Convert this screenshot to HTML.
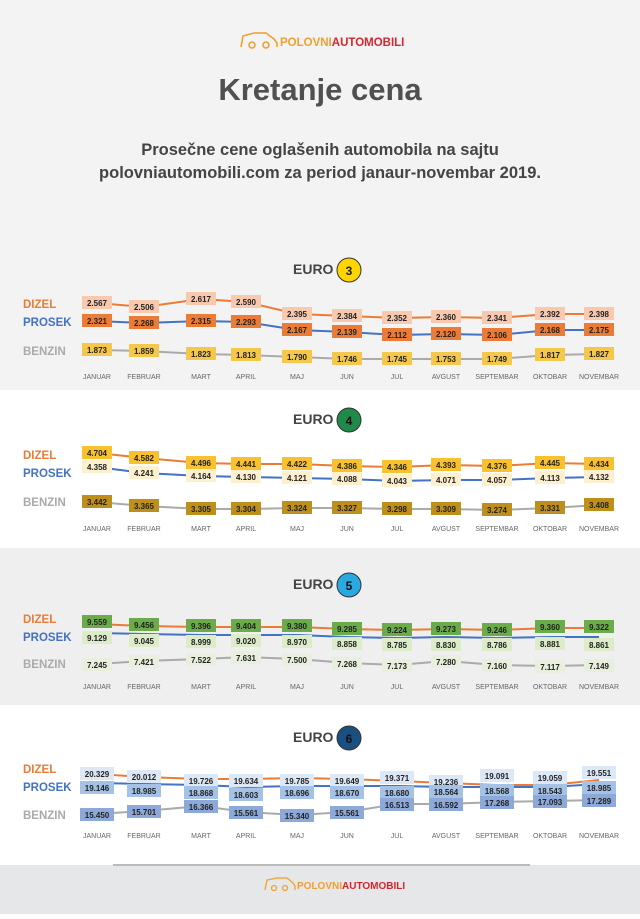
<!DOCTYPE html><html><head><meta charset="utf-8"><style>
body{margin:0;width:640px;height:914px;overflow:hidden;font-family:"Liberation Sans",sans-serif}
svg text{font-family:"Liberation Sans",sans-serif}
.m{font-size:7px;fill:#666;text-anchor:middle}
.v{font-size:8px;font-weight:bold;fill:#222;text-anchor:middle}
.lg{font-size:11.5px;font-weight:bold}
.eu{font-size:14px;font-weight:bold;fill:#444}
</style></head><body>
<svg width="640" height="914" xmlns="http://www.w3.org/2000/svg">
<rect width="640" height="390" fill="#f3f3f3"/>
<rect y="390" width="640" height="158" fill="#fff"/>
<rect y="548" width="640" height="157" fill="#efefef"/>
<rect y="705" width="640" height="160" fill="#fff"/>
<rect y="865" width="640" height="49" fill="#e6e7e8"/>
<line x1="113" y1="865" x2="530" y2="865" stroke="#bbb" stroke-width="2"/>
<!-- header logo -->
<g fill="none" stroke="#f0a030" stroke-width="1.6"><path d="M241 47 L243 36 L254 33 L266 33 L274 39 L277 43 L277 47"/><circle cx="252" cy="45" r="3"/><circle cx="266" cy="45" r="3"/></g>
<text x="280" y="46" font-size="11.5" font-weight="bold" fill="#f0a030">POLOVNI<tspan fill="#d4262e">AUTOMOBILI</tspan></text>
<text x="320" y="100" font-size="31" font-weight="bold" fill="#505050" text-anchor="middle">Kretanje cena</text>
<text x="320" y="155" font-size="16.5" font-weight="bold" fill="#444" text-anchor="middle">Prosečne cene oglašenih automobila na sajtu</text>
<text x="320" y="178" font-size="16.5" font-weight="bold" fill="#444" text-anchor="middle">polovniautomobili.com za period janaur-novembar 2019.</text>
<!-- EURO 3 -->
<text x="293" y="274" class="eu">EURO</text><circle cx="349" cy="270" r="12" fill="#ffd500" stroke="#333" stroke-width="1"/><text x="349" y="275" font-size="12" font-weight="bold" text-anchor="middle" fill="#222">3</text>
<text x="23" y="308" class="lg" fill="#ec7b35">DIZEL</text><text x="23" y="326" class="lg" fill="#4472c4">PROSEK</text><text x="23" y="355" class="lg" fill="#aaa">BENZIN</text>
<polyline fill="none" stroke="#ec7b35" stroke-width="2" points="97,303 144,307 201,299 246,302 297,314 347,316 397,318 446,317 497,318 550,314 599,314"/>
<polyline fill="none" stroke="#4472c4" stroke-width="2" points="97,321 144,323 201,321 246,322 297,330 347,332 397,335 446,334 497,335 550,330 599,330"/>
<polyline fill="none" stroke="#aaa" stroke-width="2" points="97,350 144,351 201,354 246,355 297,357 347,359 397,359 446,359 497,359 550,355 599,354"/>
<g fill="#f8c9ae"><rect x="82" y="296" width="30" height="13"/><rect x="129" y="300" width="30" height="13"/><rect x="186" y="292" width="30" height="13"/><rect x="231" y="295" width="30" height="13"/><rect x="282" y="307" width="30" height="13"/><rect x="332" y="309" width="30" height="13"/><rect x="382" y="311" width="30" height="13"/><rect x="431" y="310" width="30" height="13"/><rect x="482" y="311" width="30" height="13"/><rect x="535" y="307" width="30" height="13"/><rect x="584" y="307" width="30" height="13"/></g>
<g fill="#ec7b35"><rect x="82" y="314" width="30" height="13"/><rect x="129" y="316" width="30" height="13"/><rect x="186" y="314" width="30" height="13"/><rect x="231" y="315" width="30" height="13"/><rect x="282" y="323" width="30" height="13"/><rect x="332" y="325" width="30" height="13"/><rect x="382" y="328" width="30" height="13"/><rect x="431" y="327" width="30" height="13"/><rect x="482" y="328" width="30" height="13"/><rect x="535" y="323" width="30" height="13"/><rect x="584" y="323" width="30" height="13"/></g>
<g fill="#f5c84c"><rect x="82" y="343" width="30" height="13"/><rect x="129" y="344" width="30" height="13"/><rect x="186" y="347" width="30" height="13"/><rect x="231" y="348" width="30" height="13"/><rect x="282" y="350" width="30" height="13"/><rect x="332" y="352" width="30" height="13"/><rect x="382" y="352" width="30" height="13"/><rect x="431" y="352" width="30" height="13"/><rect x="482" y="352" width="30" height="13"/><rect x="535" y="348" width="30" height="13"/><rect x="584" y="347" width="30" height="13"/></g>
<g class="v"><text x="97" y="306" class="v">2.567</text><text x="144" y="310" class="v">2.506</text><text x="201" y="302" class="v">2.617</text><text x="246" y="305" class="v">2.590</text><text x="297" y="317" class="v">2.395</text><text x="347" y="319" class="v">2.384</text><text x="397" y="321" class="v">2.352</text><text x="446" y="320" class="v">2.360</text><text x="497" y="321" class="v">2.341</text><text x="550" y="317" class="v">2.392</text><text x="599" y="317" class="v">2.398</text>
<text x="97" y="324" class="v">2.321</text><text x="144" y="326" class="v">2.268</text><text x="201" y="324" class="v">2.315</text><text x="246" y="325" class="v">2.293</text><text x="297" y="333" class="v">2.167</text><text x="347" y="335" class="v">2.139</text><text x="397" y="338" class="v">2.112</text><text x="446" y="337" class="v">2.120</text><text x="497" y="338" class="v">2.106</text><text x="550" y="333" class="v">2.168</text><text x="599" y="333" class="v">2.175</text>
<text x="97" y="353" class="v">1.873</text><text x="144" y="354" class="v">1.859</text><text x="201" y="357" class="v">1.823</text><text x="246" y="358" class="v">1.813</text><text x="297" y="360" class="v">1.790</text><text x="347" y="362" class="v">1.746</text><text x="397" y="362" class="v">1.745</text><text x="446" y="362" class="v">1.753</text><text x="497" y="362" class="v">1.749</text><text x="550" y="358" class="v">1.817</text><text x="599" y="357" class="v">1.827</text></g>
<g class="m"><text x="97" y="379" class="m">JANUAR</text><text x="144" y="379" class="m">FEBRUAR</text><text x="201" y="379" class="m">MART</text><text x="246" y="379" class="m">APRIL</text><text x="297" y="379" class="m">MAJ</text><text x="347" y="379" class="m">JUN</text><text x="397" y="379" class="m">JUL</text><text x="446" y="379" class="m">AVGUST</text><text x="497" y="379" class="m">SEPTEMBAR</text><text x="550" y="379" class="m">OKTOBAR</text><text x="599" y="379" class="m">NOVEMBAR</text></g>
<!-- EURO 4 -->
<text x="293" y="424" class="eu">EURO</text><circle cx="349" cy="420" r="12" fill="#1f8a4a" stroke="#333" stroke-width="1"/><text x="349" y="425" font-size="12" font-weight="bold" text-anchor="middle" fill="#111">4</text>
<text x="23" y="459" class="lg" fill="#ec7b35">DIZEL</text><text x="23" y="477" class="lg" fill="#4472c4">PROSEK</text><text x="23" y="506" class="lg" fill="#aaa">BENZIN</text>
<polyline fill="none" stroke="#ec7b35" stroke-width="2" points="97,453 144,458 201,463 246,464 297,464 347,466 397,467 446,465 497,466 550,463 599,464"/>
<polyline fill="none" stroke="#4472c4" stroke-width="2" points="97,467 144,473 201,476 246,477 297,478 347,479 397,481 446,480 497,480 550,478 599,477"/>
<polyline fill="none" stroke="#aaa" stroke-width="2" points="97,502 144,506 201,509 246,509 297,508 347,508 397,509 446,509 497,510 550,508 599,505"/>
<g fill="#f9c12e"><rect x="82" y="446" width="30" height="13"/><rect x="129" y="451" width="30" height="13"/><rect x="186" y="456" width="30" height="13"/><rect x="231" y="457" width="30" height="13"/><rect x="282" y="457" width="30" height="13"/><rect x="332" y="459" width="30" height="13"/><rect x="382" y="460" width="30" height="13"/><rect x="431" y="458" width="30" height="13"/><rect x="482" y="459" width="30" height="13"/><rect x="535" y="456" width="30" height="13"/><rect x="584" y="457" width="30" height="13"/></g>
<g fill="#fdf0cf"><rect x="82" y="460" width="30" height="13"/><rect x="129" y="466" width="30" height="13"/><rect x="186" y="469" width="30" height="13"/><rect x="231" y="470" width="30" height="13"/><rect x="282" y="471" width="30" height="13"/><rect x="332" y="472" width="30" height="13"/><rect x="382" y="474" width="30" height="13"/><rect x="431" y="473" width="30" height="13"/><rect x="482" y="473" width="30" height="13"/><rect x="535" y="471" width="30" height="13"/><rect x="584" y="470" width="30" height="13"/></g>
<g fill="#bf8f1c"><rect x="82" y="495" width="30" height="13"/><rect x="129" y="499" width="30" height="13"/><rect x="186" y="502" width="30" height="13"/><rect x="231" y="502" width="30" height="13"/><rect x="282" y="501" width="30" height="13"/><rect x="332" y="501" width="30" height="13"/><rect x="382" y="502" width="30" height="13"/><rect x="431" y="502" width="30" height="13"/><rect x="482" y="503" width="30" height="13"/><rect x="535" y="501" width="30" height="13"/><rect x="584" y="498" width="30" height="13"/></g>
<g><text x="97" y="456" class="v">4.704</text><text x="144" y="461" class="v">4.582</text><text x="201" y="466" class="v">4.496</text><text x="246" y="467" class="v">4.441</text><text x="297" y="467" class="v">4.422</text><text x="347" y="469" class="v">4.386</text><text x="397" y="470" class="v">4.346</text><text x="446" y="468" class="v">4.393</text><text x="497" y="469" class="v">4.376</text><text x="550" y="466" class="v">4.445</text><text x="599" y="467" class="v">4.434</text>
<text x="97" y="470" class="v">4.358</text><text x="144" y="476" class="v">4.241</text><text x="201" y="479" class="v">4.164</text><text x="246" y="480" class="v">4.130</text><text x="297" y="481" class="v">4.121</text><text x="347" y="482" class="v">4.088</text><text x="397" y="484" class="v">4.043</text><text x="446" y="483" class="v">4.071</text><text x="497" y="483" class="v">4.057</text><text x="550" y="481" class="v">4.113</text><text x="599" y="480" class="v">4.132</text>
<text x="97" y="505" class="v">3.442</text><text x="144" y="509" class="v">3.365</text><text x="201" y="512" class="v">3.305</text><text x="246" y="512" class="v">3.304</text><text x="297" y="511" class="v">3.324</text><text x="347" y="511" class="v">3.327</text><text x="397" y="512" class="v">3.298</text><text x="446" y="512" class="v">3.309</text><text x="497" y="513" class="v">3.274</text><text x="550" y="511" class="v">3.331</text><text x="599" y="508" class="v">3.408</text></g>
<g><text x="97" y="531" class="m">JANUAR</text><text x="144" y="531" class="m">FEBRUAR</text><text x="201" y="531" class="m">MART</text><text x="246" y="531" class="m">APRIL</text><text x="297" y="531" class="m">MAJ</text><text x="347" y="531" class="m">JUN</text><text x="397" y="531" class="m">JUL</text><text x="446" y="531" class="m">AVGUST</text><text x="497" y="531" class="m">SEPTEMBAR</text><text x="550" y="531" class="m">OKTOBAR</text><text x="599" y="531" class="m">NOVEMBAR</text></g>
<!-- EURO 5 -->
<text x="293" y="589" class="eu">EURO</text><circle cx="349" cy="585" r="12" fill="#29a9e0" stroke="#333" stroke-width="1"/><text x="349" y="590" font-size="12" font-weight="bold" text-anchor="middle" fill="#111">5</text>
<text x="23" y="623" class="lg" fill="#ec7b35">DIZEL</text><text x="23" y="641" class="lg" fill="#4472c4">PROSEK</text><text x="23" y="668" class="lg" fill="#aaa">BENZIN</text>
<polyline fill="none" stroke="#ec7b35" stroke-width="2" points="97,624 144,626 201,627 246,627 297,627 347,629 397,630 446,629 497,630 550,628 599,628"/>
<polyline fill="none" stroke="#4472c4" stroke-width="2" points="97,633 144,634 201,635 246,635 297,635 347,637 397,638 446,637 497,638 550,637 599,637"/>
<polyline fill="none" stroke="#aaa" stroke-width="2" points="97,664 144,661 201,659 246,657 297,659 347,663 397,665 446,661 497,665 550,666 599,665"/>
<g fill="#6aab4a"><rect x="82" y="615" width="30" height="13"/><rect x="129" y="618" width="30" height="13"/><rect x="186" y="619" width="30" height="13"/><rect x="231" y="619" width="30" height="13"/><rect x="282" y="619" width="30" height="13"/><rect x="332" y="622" width="30" height="13"/><rect x="382" y="623" width="30" height="13"/><rect x="431" y="622" width="30" height="13"/><rect x="482" y="623" width="30" height="13"/><rect x="535" y="620" width="30" height="13"/><rect x="584" y="620" width="30" height="13"/></g>
<g fill="#dcebc8"><rect x="82" y="631" width="30" height="13"/><rect x="129" y="634" width="30" height="13"/><rect x="186" y="635" width="30" height="13"/><rect x="231" y="634" width="30" height="13"/><rect x="282" y="635" width="30" height="13"/><rect x="332" y="637" width="30" height="13"/><rect x="382" y="638" width="30" height="13"/><rect x="431" y="638" width="30" height="13"/><rect x="482" y="638" width="30" height="13"/><rect x="535" y="637" width="30" height="13"/><rect x="584" y="638" width="30" height="13"/></g>
<g fill="#e8f0dd"><rect x="82" y="658" width="30" height="13"/><rect x="129" y="655" width="30" height="13"/><rect x="186" y="653" width="30" height="13"/><rect x="231" y="651" width="30" height="13"/><rect x="282" y="653" width="30" height="13"/><rect x="332" y="657" width="30" height="13"/><rect x="382" y="659" width="30" height="13"/><rect x="431" y="655" width="30" height="13"/><rect x="482" y="659" width="30" height="13"/><rect x="535" y="660" width="30" height="13"/><rect x="584" y="659" width="30" height="13"/></g>
<g><text x="97" y="625" class="v">9.559</text><text x="144" y="628" class="v">9.456</text><text x="201" y="629" class="v">9.396</text><text x="246" y="629" class="v">9.404</text><text x="297" y="629" class="v">9.380</text><text x="347" y="632" class="v">9.285</text><text x="397" y="633" class="v">9.224</text><text x="446" y="632" class="v">9.273</text><text x="497" y="633" class="v">9.246</text><text x="550" y="630" class="v">9.360</text><text x="599" y="630" class="v">9.322</text>
<text x="97" y="641" class="v">9.129</text><text x="144" y="644" class="v">9.045</text><text x="201" y="645" class="v">8.999</text><text x="246" y="644" class="v">9.020</text><text x="297" y="645" class="v">8.970</text><text x="347" y="647" class="v">8.858</text><text x="397" y="648" class="v">8.785</text><text x="446" y="648" class="v">8.830</text><text x="497" y="648" class="v">8.786</text><text x="550" y="647" class="v">8.881</text><text x="599" y="648" class="v">8.861</text>
<text x="97" y="668" class="v">7.245</text><text x="144" y="665" class="v">7.421</text><text x="201" y="663" class="v">7.522</text><text x="246" y="661" class="v">7.631</text><text x="297" y="663" class="v">7.500</text><text x="347" y="667" class="v">7.268</text><text x="397" y="669" class="v">7.173</text><text x="446" y="665" class="v">7.280</text><text x="497" y="669" class="v">7.160</text><text x="550" y="670" class="v">7.117</text><text x="599" y="669" class="v">7.149</text></g>
<g><text x="97" y="689" class="m">JANUAR</text><text x="144" y="689" class="m">FEBRUAR</text><text x="201" y="689" class="m">MART</text><text x="246" y="689" class="m">APRIL</text><text x="297" y="689" class="m">MAJ</text><text x="347" y="689" class="m">JUN</text><text x="397" y="689" class="m">JUL</text><text x="446" y="689" class="m">AVGUST</text><text x="497" y="689" class="m">SEPTEMBAR</text><text x="550" y="689" class="m">OKTOBAR</text><text x="599" y="689" class="m">NOVEMBAR</text></g>
<!-- EURO 6 -->
<text x="293" y="742" class="eu">EURO</text><circle cx="349" cy="738" r="12" fill="#1b4f82" stroke="#333" stroke-width="1"/><text x="349" y="743" font-size="12" font-weight="bold" text-anchor="middle" fill="#111">6</text>
<text x="23" y="773" class="lg" fill="#ec7b35">DIZEL</text><text x="23" y="791" class="lg" fill="#4472c4">PROSEK</text><text x="23" y="819" class="lg" fill="#aaa">BENZIN</text>
<polyline fill="none" stroke="#ec7b35" stroke-width="2" points="97,774 144,777 201,779 246,779 297,778 347,779 397,781 446,783 497,785 550,785 599,780"/>
<polyline fill="none" stroke="#4472c4" stroke-width="2" points="97,783 144,784 201,785 246,787 297,786 347,786 397,786 446,787 497,787 550,787 599,784"/>
<polyline fill="none" stroke="#aaa" stroke-width="2" points="97,814 144,811 201,806 246,812 297,815 347,812 397,804 446,804 497,802 550,801 599,800"/>
<g fill="#dde8f6"><rect x="80" y="767" width="34" height="13"/><rect x="127" y="770" width="34" height="13"/><rect x="184" y="774" width="34" height="13"/><rect x="229" y="774" width="34" height="13"/><rect x="280" y="774" width="34" height="13"/><rect x="330" y="774" width="34" height="13"/><rect x="380" y="771" width="34" height="13"/><rect x="429" y="775" width="34" height="13"/><rect x="480" y="769" width="34" height="13"/><rect x="533" y="771" width="34" height="13"/><rect x="582" y="766" width="34" height="13"/></g>
<g fill="#a4c2e6"><rect x="80" y="781" width="34" height="13"/><rect x="127" y="784" width="34" height="13"/><rect x="184" y="786" width="34" height="13"/><rect x="229" y="788" width="34" height="13"/><rect x="280" y="786" width="34" height="13"/><rect x="330" y="786" width="34" height="13"/><rect x="380" y="786" width="34" height="13"/><rect x="429" y="785" width="34" height="13"/><rect x="480" y="784" width="34" height="13"/><rect x="533" y="784" width="34" height="13"/><rect x="582" y="781" width="34" height="13"/></g>
<g fill="#8da9d9"><rect x="80" y="808" width="34" height="13"/><rect x="127" y="805" width="34" height="13"/><rect x="184" y="800" width="34" height="13"/><rect x="229" y="806" width="34" height="13"/><rect x="280" y="809" width="34" height="13"/><rect x="330" y="806" width="34" height="13"/><rect x="380" y="798" width="34" height="13"/><rect x="429" y="798" width="34" height="13"/><rect x="480" y="796" width="34" height="13"/><rect x="533" y="795" width="34" height="13"/><rect x="582" y="794" width="34" height="13"/></g>
<g><text x="97" y="777" class="v">20.329</text><text x="144" y="780" class="v">20.012</text><text x="201" y="784" class="v">19.726</text><text x="246" y="784" class="v">19.634</text><text x="297" y="784" class="v">19.785</text><text x="347" y="784" class="v">19.649</text><text x="397" y="781" class="v">19.371</text><text x="446" y="785" class="v">19.236</text><text x="497" y="779" class="v">19.091</text><text x="550" y="781" class="v">19.059</text><text x="599" y="776" class="v">19.551</text>
<text x="97" y="791" class="v">19.146</text><text x="144" y="794" class="v">18.985</text><text x="201" y="796" class="v">18.868</text><text x="246" y="798" class="v">18.603</text><text x="297" y="796" class="v">18.696</text><text x="347" y="796" class="v">18.670</text><text x="397" y="796" class="v">18.680</text><text x="446" y="795" class="v">18.564</text><text x="497" y="794" class="v">18.568</text><text x="550" y="794" class="v">18.543</text><text x="599" y="791" class="v">18.985</text>
<text x="97" y="818" class="v">15.450</text><text x="144" y="815" class="v">15.701</text><text x="201" y="810" class="v">16.366</text><text x="246" y="816" class="v">15.561</text><text x="297" y="819" class="v">15.340</text><text x="347" y="816" class="v">15.561</text><text x="397" y="808" class="v">16.513</text><text x="446" y="808" class="v">16.592</text><text x="497" y="806" class="v">17.268</text><text x="550" y="805" class="v">17.093</text><text x="599" y="804" class="v">17.289</text></g>
<g><text x="97" y="838" class="m">JANUAR</text><text x="144" y="838" class="m">FEBRUAR</text><text x="201" y="838" class="m">MART</text><text x="246" y="838" class="m">APRIL</text><text x="297" y="838" class="m">MAJ</text><text x="347" y="838" class="m">JUN</text><text x="397" y="838" class="m">JUL</text><text x="446" y="838" class="m">AVGUST</text><text x="497" y="838" class="m">SEPTEMBAR</text><text x="550" y="838" class="m">OKTOBAR</text><text x="599" y="838" class="m">NOVEMBAR</text></g>
<!-- footer logo -->
<g fill="none" stroke="#f0a030" stroke-width="1.3"><path d="M265 890 L267 880 L277 878 L287 878 L293 883 L295 886 L295 890"/><circle cx="274" cy="888" r="2.5"/><circle cx="285" cy="888" r="2.5"/></g>
<text x="297" y="889" font-size="10" font-weight="bold" fill="#f0a030">POLOVNI<tspan fill="#d4262e">AUTOMOBILI</tspan></text>
</svg>
</body></html>
